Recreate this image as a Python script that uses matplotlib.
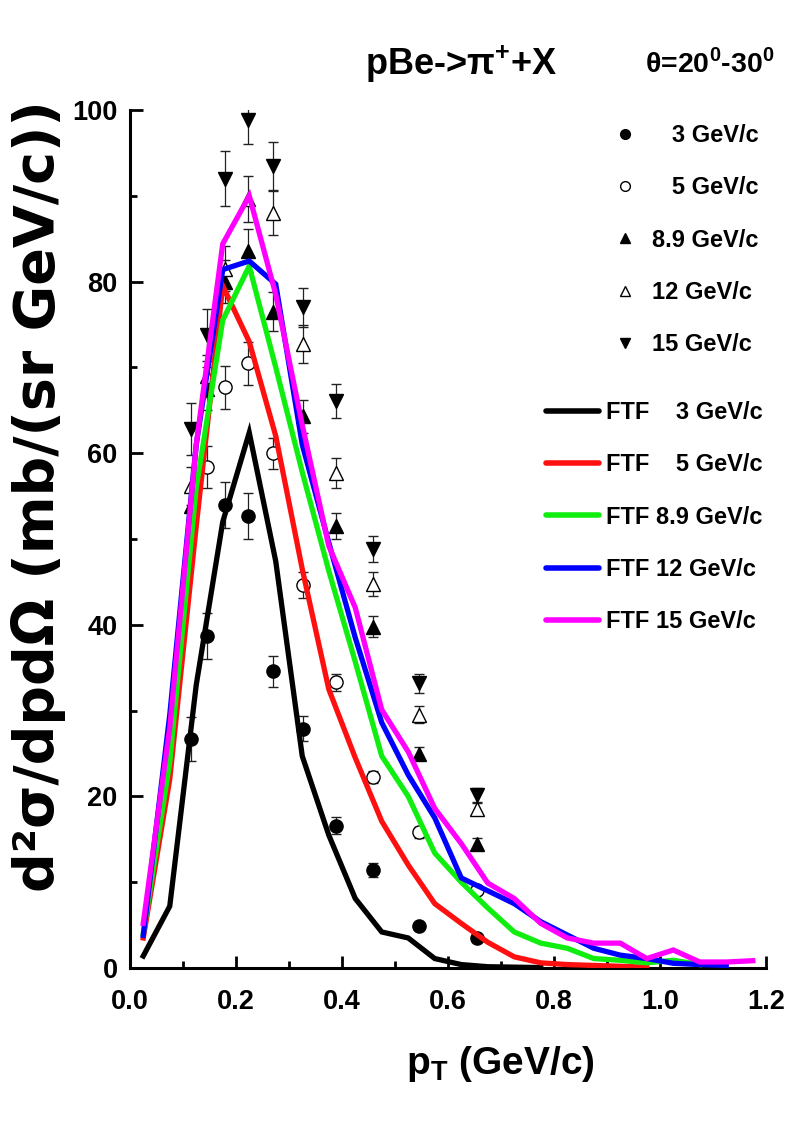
import numpy as np
import matplotlib
matplotlib.use("Agg")
import matplotlib.pyplot as plt
from matplotlib.lines import Line2D
from matplotlib.ticker import MultipleLocator, FormatStrFormatter

NARROW = ['Liberation Sans Narrow', 'Liberation Sans', 'DejaVu Sans']

# measured data (pT bins, GeV/c)
pt_data = [0.116, 0.146, 0.180, 0.222, 0.270, 0.327, 0.388, 0.458, 0.545, 0.655]

d3 = [26.7, 38.7, 54.0, 52.7, 34.6, 27.9, 16.6, 11.4, 4.9, 3.5]
e3 = [2.6, 2.7, 2.7, 2.7, 1.8, 1.5, 1.0, 0.8, 0.5, 0.4]
d5 = [np.nan, 58.4, 67.7, 70.5, 60.0, 44.6, 33.3, 22.3, 15.8, 9.1]
e5 = [0.0, 2.4, 2.5, 2.5, 1.8, 1.5, 1.0, 0.7, 0.6, 0.5]
d89 = [53.8, 67.5, 80.0, 83.6, 76.5, 64.3, 51.5, 39.8, 25.0, 14.5]
e89 = [2.0, 2.5, 2.5, 2.5, 2.3, 1.9, 1.5, 1.2, 0.8, 0.6]
d12 = [56.2, 69.0, 81.5, 89.6, 88.0, 72.7, 57.7, 44.7, 29.5, 18.5]
e12 = [2.2, 2.5, 2.6, 2.7, 2.6, 2.2, 1.7, 1.4, 1.0, 0.7]
d15 = [62.8, 73.8, 92.0, 98.8, 93.5, 77.0, 66.1, 48.8, 33.2, 20.2]
e15 = [3.0, 3.0, 3.2, 2.8, 2.8, 2.3, 2.0, 1.5, 1.1, 0.8]

# FTF model curves
pt_ftf = [0.025, 0.075, 0.125, 0.175, 0.225, 0.275, 0.325, 0.375, 0.425, 0.475,
          0.525, 0.575, 0.625, 0.675, 0.725, 0.775, 0.825, 0.875, 0.925, 0.975,
          1.025, 1.075, 1.125, 1.175]

ftf3 = [1.4, 7.2, 33.0, 52.0, 62.4, 47.4, 24.7, 15.5, 8.1, 4.2, 3.5, 1.1, 0.4, 0.15, 0.1, 0.05]
ftf5 = [3.5, 22.0, 51.5, 79.5, 73.0, 62.0, 46.5, 32.5, 24.5, 17.1, 12.0, 7.5, 5.2, 3.0, 1.3,
        0.6, 0.4, 0.3, 0.2, 0.1]
ftf89 = [4.0, 24.0, 56.0, 75.5, 81.8, 70.0, 57.8, 46.3, 35.7, 24.7, 20.0, 13.4, 10.0, 7.0,
         4.2, 2.9, 2.3, 1.1, 0.9, 0.6, 0.9, 0.4]
ftf12 = [3.8, 29.5, 61.0, 81.4, 82.4, 79.7, 61.0, 49.6, 38.5, 28.6, 22.5, 17.5, 10.5, 9.0,
         7.5, 5.4, 3.85, 2.3, 1.5, 1.1, 0.55, 0.4, 0.3]
ftf15 = [5.2, 28.0, 61.0, 84.4, 90.0, 78.5, 63.3, 49.2, 42.0, 30.1, 25.2, 18.6, 14.5, 9.9,
         8.1, 5.2, 3.5, 2.9, 2.9, 1.1, 2.1, 0.7, 0.7, 0.85]

fig = plt.figure(figsize=(7.86, 11.21), dpi=100)
ax = fig.add_axes([130/786, 153/1121, 636/786, 858/1121])

# data points
data_sets = [
    (d3, e3, 'o', 'black'),
    (d5, e5, 'o', 'white'),
    (d89, e89, '^', 'black'),
    (d12, e12, '^', 'white'),
    (d15, e15, 'v', 'black'),
]
for vals, errs, mk, fc in data_sets:
    ax.errorbar(pt_data, vals, yerr=errs, fmt=mk, ms=9.5, mfc=fc, mec='black', mew=1,
                ecolor='#222222', elinewidth=0.9, capsize=3.5, capthick=0.9, zorder=2)

# model lines
ftf_sets = [(ftf3, 'black'), (ftf5, '#ff1010'), (ftf89, '#10ee10'),
            (ftf12, '#0000ff'), (ftf15, '#ff00ff')]
for vals, col in ftf_sets:
    ax.plot(pt_ftf[:len(vals)], vals, color=col, lw=3.8, solid_joinstyle='miter', zorder=3)

ax.set_xlim(0, 1.2)
ax.set_ylim(0, 100)
ax.xaxis.set_major_locator(MultipleLocator(0.2))
ax.xaxis.set_minor_locator(MultipleLocator(0.1))
ax.yaxis.set_major_locator(MultipleLocator(20))
ax.yaxis.set_minor_locator(MultipleLocator(10))
ax.xaxis.set_major_formatter(FormatStrFormatter('%.1f'))

for s in ['top', 'right']:
    ax.spines[s].set_visible(False)
for s in ['left', 'bottom']:
    ax.spines[s].set_linewidth(2.2)
ax.tick_params(which='major', direction='in', length=9, width=2)
ax.tick_params(which='minor', direction='in', length=5, width=2)
ax.tick_params(axis='x', which='major', pad=15)
ax.tick_params(axis='y', which='major', pad=9)
for lab in ax.get_xticklabels() + ax.get_yticklabels():
    lab.set_fontfamily(NARROW)
    lab.set_fontweight('bold')
    lab.set_fontsize(19.5)

ax.set_xlabel(r'p$_\mathregular{T}$ (GeV/c)', family=NARROW, fontweight='bold', fontsize=28)
ax.xaxis.set_label_coords(0.582, -0.088)
ax.set_ylabel('d²σ/dpdΩ (mb/(sr GeV/c))', family='DejaVu Sans', fontweight='bold',
              fontsize=40)
ax.yaxis.set_label_coords(-0.1, 0.55)

fig.text(365/786, 1 - 75/1121, r'pBe->π$^{\mathregular{+}}$+X', family=NARROW,
         fontweight='bold', fontsize=26, ha='left', va='baseline')
fig.text(645/786, 1 - 72/1121, r'θ=20$^{\mathregular{0}}$-30$^{\mathregular{0}}$',
         family=NARROW, fontweight='bold', fontsize=20.5, ha='left', va='baseline')

# legends
leg_font = {'family': NARROW, 'weight': 'bold', 'size': 17}
marker_handles = [
    Line2D([], [], ls='none', marker='o', ms=7, mfc='black', mec='black'),
    Line2D([], [], ls='none', marker='o', ms=7, mfc='white', mec='black', mew=1),
    Line2D([], [], ls='none', marker='^', ms=7, mfc='black', mec='black'),
    Line2D([], [], ls='none', marker='^', ms=7, mfc='white', mec='black', mew=1),
    Line2D([], [], ls='none', marker='v', ms=7, mfc='black', mec='black'),
]
marker_labels = ['   3 GeV/c', '   5 GeV/c', '8.9 GeV/c', '12 GeV/c', '15 GeV/c']
leg1 = ax.legend(marker_handles, marker_labels, loc='upper left',
                 bbox_to_anchor=((613 - 130)/636, (968 - 124)/858), frameon=False,
                 prop=leg_font, handlelength=1.0, handletextpad=0.65, labelspacing=1.24,
                 borderpad=0, borderaxespad=0)
ax.add_artist(leg1)

line_handles = [Line2D([], [], color=c, lw=4, solid_capstyle='round') for _, c in ftf_sets]
line_labels = ['FTF    3 GeV/c', 'FTF    5 GeV/c', 'FTF 8.9 GeV/c', 'FTF 12 GeV/c',
               'FTF 15 GeV/c']
ax.legend(line_handles, line_labels, loc='upper left',
          bbox_to_anchor=((546 - 130)/636, (968 - 401)/858), frameon=False,
          prop=leg_font, handlelength=2.25, handletextpad=0.3, labelspacing=1.24,
          borderpad=0, borderaxespad=0)

fig.savefig('out.png', dpi=100)
